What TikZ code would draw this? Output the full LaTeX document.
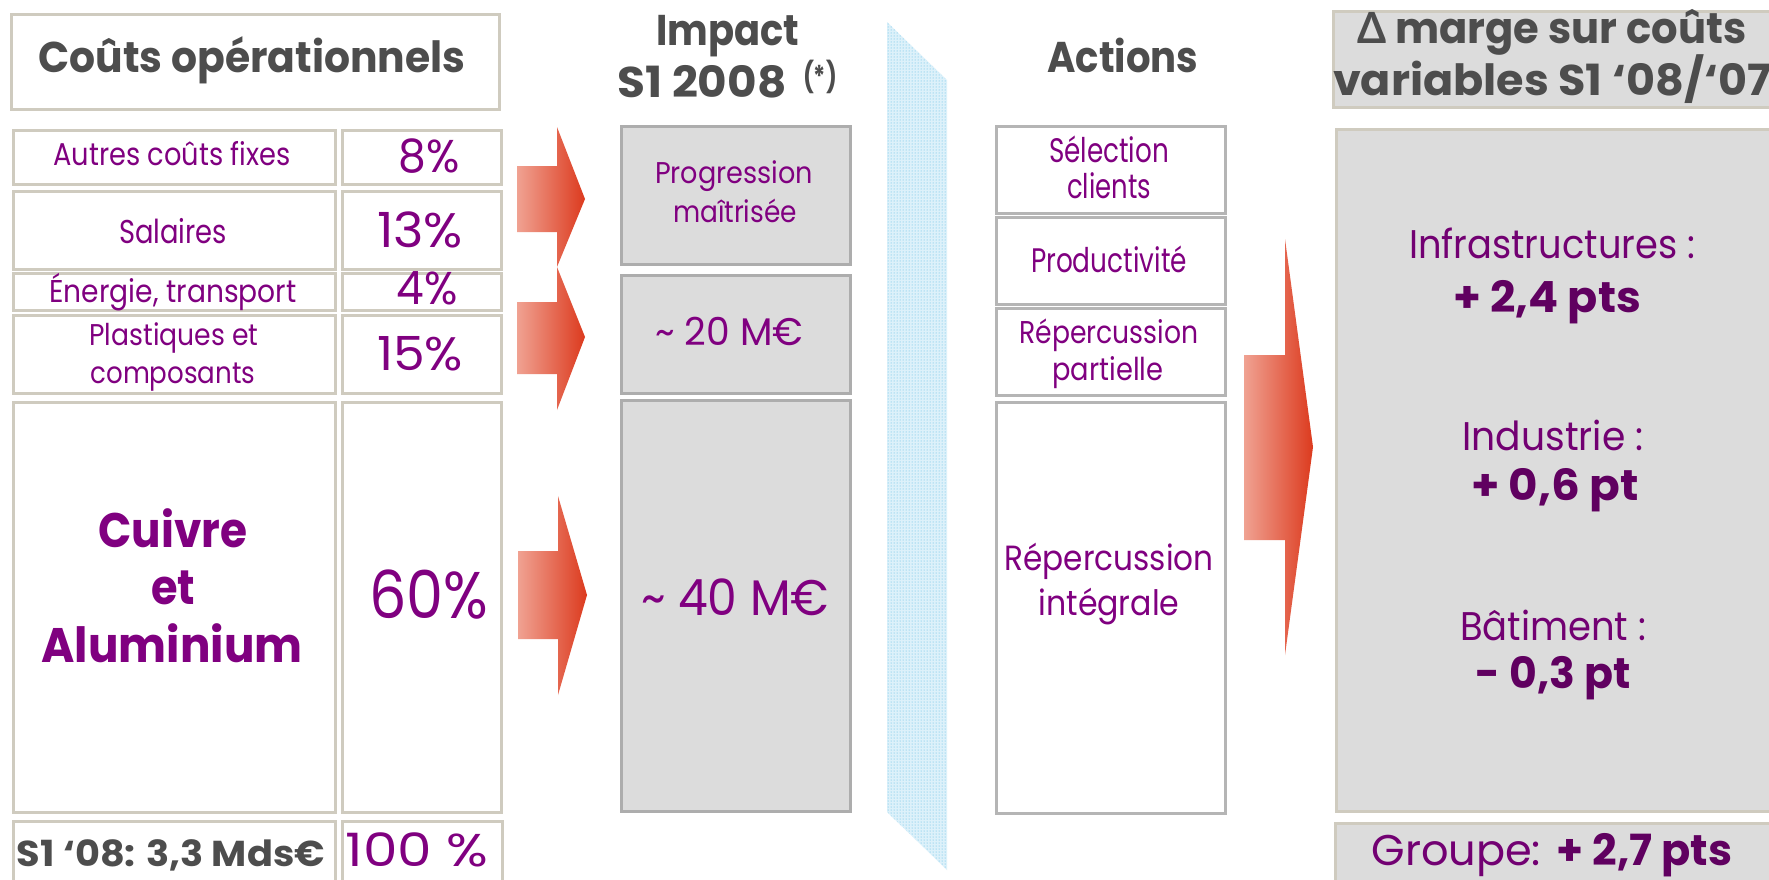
\documentclass[tikz,border=0pt]{standalone}
\usepackage{fontspec}
\usepackage{graphicx}
\setmainfont{Poppins}
\newfontfamily\latofont{Lato}
\usetikzlibrary{patterns}
\definecolor{purp}{HTML}{800080}
\definecolor{purpb}{HTML}{720072}
\definecolor{dpurp}{HTML}{600060}
\definecolor{tgray}{HTML}{4D4D4D}
\definecolor{bordtan}{HTML}{CFCBBF}
\definecolor{bgray}{HTML}{DCDCDC}
\definecolor{igray}{HTML}{ADADAD}
\definecolor{agray}{HTML}{B5B5B5}
\definecolor{arrL}{HTML}{F0A292}
\definecolor{arrR}{HTML}{DC3A1E}
\definecolor{bandbg}{HTML}{DDF1FA}
\definecolor{bandc}{HTML}{4FB6E3}
\newlength\myfitlen
\newcommand\myfit[2]{\settowidth\myfitlen{#2}\pgfmathsetmacro\myfitr{#1/\myfitlen}\scalebox{\myfitr}[1]{#2}}
\newcommand\bx[6]{\node[#2, anchor=north west, minimum width=#5-#3, minimum height=#6-#4] (#1) at (#3,#4) {};}
\newcommand\tx[6]{\node[#2, anchor=base] (#1) at (#3,#4) {\myfit{#5}{#6}};}
\tikzset{
  lbox/.style={draw=bordtan, line width=2.5pt, fill=white, inner sep=0pt},
  ibox/.style={draw=igray, line width=2.5pt, fill=bgray, inner sep=0pt},
  abox/.style={draw=agray, line width=2.5pt, fill=white, inner sep=0pt},
  rbox/.style={draw=bordtan, line width=2.5pt, fill=bgray, inner sep=0pt},
  ps/.style={font=\fontsize{#1}{#1}\selectfont, text=purp, inner sep=0pt},
  pbs/.style={font=\fontsize{#1}{#1}\selectfont\bfseries, text=purp, inner sep=0pt},
  qs/.style={font=\fontsize{#1}{#1}\selectfont, text=purpb, inner sep=0pt},
  qbs/.style={font=\fontsize{#1}{#1}\selectfont\bfseries, text=dpurp, inner sep=0pt},
  ts/.style={font=\fontsize{#1}{#1}\selectfont\bfseries, text=tgray, inner sep=0pt},
  arrowsh/.style={left color=arrL, right color=arrR}
}
\begin{document}
\begin{tikzpicture}[x=1pt, y=-1pt]
\clip (0,0) rectangle (1769,879);
\fill[white] (0,0) rectangle (1769,879);

% ---- left column ----
\bx{ttl}{lbox}{10}{13}{498}{108}
\tx{ttlt}{ts=43}{252}{72}{427}{Coûts opérationnels}
\bx{a1}{lbox}{12}{129}{334}{183} \bx{b1}{lbox}{341}{129}{500}{183}
\bx{a2}{lbox}{12}{190}{334}{268} \bx{b2}{lbox}{341}{190}{500}{268}
\bx{a3}{lbox}{12}{272}{334}{309} \bx{b3}{lbox}{341}{272}{500}{309}
\bx{a4}{lbox}{12}{314}{334}{392} \bx{b4}{lbox}{341}{314}{500}{392}
\bx{a5}{lbox}{12}{401}{334}{811} \bx{b5}{lbox}{341}{401}{500}{811}
\bx{a6}{lbox}{12}{820}{334}{900} \bx{b6}{lbox}{341}{820}{501}{900}
\tx{a1t}{ps=31.5}{172}{165}{237}{Autres coûts fixes}
\tx{b1t}{ps=46}{429}{172}{61}{8\%}
\tx{a2t}{ps=33}{173}{243}{108}{Salaires}
\tx{b2t}{ps=48.5}{420}{247}{86}{13\%}
\tx{a3t}{ps=31.5}{173}{302}{247}{Énergie, transport}
\tx{b3t}{ps=46}{427}{304}{61}{4\%}
\tx{a4t}{ps=30}{174}{345}{169}{Plastiques et}
\tx{a4u}{ps=30}{173}{383}{165}{composants}
\tx{b4t}{ps=47}{420}{370}{86}{15\%}
\tx{a5t}{pbs=48.5}{173}{547}{149}{Cuivre}
\tx{a5u}{pbs=48.5}{173}{604}{44}{et}
\tx{a5v}{pbs=48.5}{172}{662}{261}{Aluminium}
\tx{b5t}{ps=66}{429}{618}{119}{60\%}
\tx{a6t}{ts=36}{171}{866}{308}{S1 ‘08: 3,3 Mds€}
\tx{b6t}{ps=46}{417}{866}{143}{100 \%}

% ---- arrows left ----
\shade[arrowsh] (517,166) -- (557,166) -- (557,127) -- (585,199) -- (557,267) -- (557,232) -- (517,232) -- cycle;
\shade[arrowsh] (517,302) -- (557,302) -- (557,267) -- (585,337) -- (557,410) -- (557,374) -- (517,374) -- cycle;
\shade[arrowsh] (518,551) -- (558,551) -- (558,496) -- (587,595) -- (558,695) -- (558,639) -- (518,639) -- cycle;

% ---- impact ----
\tx{imp1}{ts=43}{728}{45}{143}{Impact}
\tx{imp2}{ts=43}{702}{97}{169}{S1 2008}
\tx{imp3}{ts=30}{820}{87}{34}{(*)}
\bx{i1}{ibox}{620}{125}{849}{263}
\bx{i2}{ibox}{620}{274}{849}{392}
\bx{i3}{ibox}{620}{399}{849}{810}
\tx{i1t}{ps=30}{734}{183}{158}{Progression}
\tx{i1u}{ps=30}{735}{222}{124}{maîtrisée}
\tx{i2t}{ps=38.5}{729}{345}{148}{\textasciitilde{} 20 M€}
\tx{i3t}{ps=50}{735}{615}{188}{\textasciitilde{} 40 M€}

% ---- dotted band ----
\fill[bandbg] (887,22) -- (947,80) -- (947,870) -- (887,812) -- cycle;
\fill[pattern=dots, pattern color=bandc] (887,22) -- (947,80) -- (947,870) -- (887,812) -- cycle;

% ---- actions ----
\tx{act}{ts=43}{1123}{72}{151}{Actions}
\bx{c1}{abox}{995}{125}{1224}{212}
\bx{c2}{abox}{995}{216}{1224}{303}
\bx{c3}{abox}{995}{307}{1224}{394}
\bx{c4}{abox}{995}{401}{1224}{812}
\tx{c1t}{ps=34}{1109}{162}{120}{Sélection}
\tx{c1u}{ps=34}{1109}{198}{84}{clients}
\tx{c2t}{ps=34}{1109}{272}{156}{Productivité}
\tx{c3t}{ps=31.5}{1109}{343}{179}{Répercussion}
\tx{c3u}{ps=31.5}{1108}{380}{111}{partielle}
\tx{c4t}{ps=35}{1109}{570}{209}{Répercussion}
\tx{c4u}{ps=35}{1109}{615}{141}{intégrale}

% ---- big arrow ----
\shade[arrowsh] (1244,355) -- (1285,355) -- (1285,239) -- (1313,447) -- (1285,655) -- (1285,540) -- (1244,540) -- cycle;

% ---- right column ----
\bx{r0}{rbox}{1332}{10}{1800}{106}
\tx{r0t}{ts=43}{1552}{43}{389}{{\latofont Δ} marge sur coûts}
\tx{r0u}{ts=43}{1552}{95}{438}{variables S1 ‘08/‘07}
\bx{r1}{rbox}{1335}{128}{1800}{810}
\tx{r1a}{qs=40}{1552}{258}{286}{Infrastructures :}
\tx{r1b}{qbs=43}{1547}{312}{188}{+ 2,4 pts}
\tx{r1c}{qs=40}{1553}{450}{181}{Industrie :}
\tx{r1d}{qbs=43}{1555}{500}{168}{+ 0,6 pt}
\tx{r1e}{qs=40}{1553}{640}{186}{Bâtiment :}
\tx{r1f}{qbs=43}{1553}{688}{155}{- 0,3 pt}
\bx{r2}{rbox}{1334}{822}{1800}{900}
\tx{r2t}{qs=43}{1552}{865}{361}{Groupe: {\bfseries\color{dpurp}+ 2,7 pts}}
\end{tikzpicture}
\end{document}
